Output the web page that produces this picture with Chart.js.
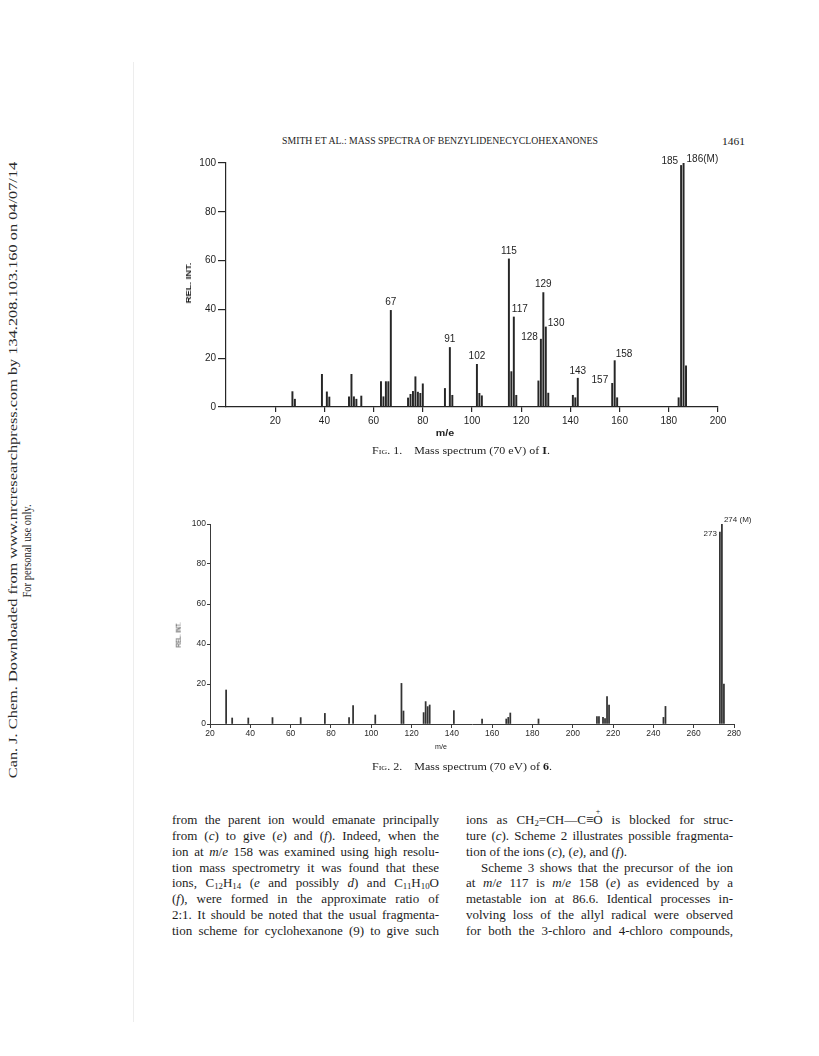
<!DOCTYPE html>
<html>
<head>
<meta charset="utf-8">
<title>Mass spectra of benzylidenecyclohexanones</title>
<script src="https://cdn.jsdelivr.net/npm/chart.js@4.4.1/dist/chart.umd.min.js"></script>
<style>
  html, body { margin:0; padding:0; background:#fff; }
  body { width:819px; height:1056px; position:relative; overflow:hidden; color:#1c1c1c;
         font-family:"Liberation Serif","Times New Roman",serif; }
  canvas { position:absolute; }
  .fit { position:absolute; left:0; top:0; white-space:nowrap; line-height:1; transform-origin:0 0; }
  .sans { font-family:"Liberation Sans", Arial, sans-serif; }
  .sc { font-variant:small-caps; }
  .ln { position:absolute; white-space:nowrap; line-height:1; display:inline-block; font-size:13px; }
  sub { font-size:0.68em; vertical-align:-0.28em; line-height:0; }
  .oplus { position:relative; display:inline-block; }
  .oplus span { position:absolute; left:50%; top:-0.62em; transform:translateX(-50%); font-size:0.62em; }
</style>
</head>
<body>
<div style="position:absolute;left:133px;top:62px;width:1px;height:960px;background:#ededed;"></div>

<!-- side note -->
<div class="fit" data-cx="13" data-cy="470" data-w="616" data-r="-90" style="font-size:13.5px;color:#2a2a2a;">Can. J. Chem. Downloaded from www.nrcresearchpress.com by 134.208.103.160 on 04/07/14</div>
<div class="fit" data-cx="27" data-cy="551" data-w="93" data-r="-90" style="font-size:13.5px;color:#2a2a2a;">For personal use only.</div>

<!-- running head -->
<div class="fit" data-cx="440" data-cy="141" data-w="316" style="font-size:9.6px;">SMITH ET AL.: MASS SPECTRA OF BENZYLIDENECYCLOHEXANONES</div>
<div class="fit" data-cx="733.5" data-cy="141" data-w="23" style="font-size:11px;">1461</div>

<!-- figure 1 -->
<canvas id="fig1" width="600" height="300" style="left:150px;top:150px;width:600px;height:300px;"></canvas>
<div class="fit sans" data-cx="189" data-cy="283" data-w="41" data-r="-90" style="font-size:8px;font-weight:bold;">REL. INT.</div>
<div class="fit sans" data-cx="445" data-cy="433" data-w="19" style="font-size:9px;font-weight:bold;">m/e</div>
<div class="fit" data-cx="461" data-cy="451" data-w="178" style="font-size:10.5px;"><span class="sc">Fig</span>. 1.&nbsp;&nbsp;&nbsp; Mass spectrum (70 eV) of <b>I</b>.</div>

<!-- figure 2 -->
<canvas id="fig2" width="620" height="260" style="left:140px;top:505px;width:620px;height:260px;"></canvas>
<div class="fit sans" data-cx="179" data-cy="635" data-w="25" data-r="-90" style="font-size:6.5px;">REL. INT.</div>
<div class="fit sans" data-cx="441" data-cy="747" data-w="12" style="font-size:6.5px;">m/e</div>
<div class="fit" data-cx="462" data-cy="767" data-w="180" style="font-size:10.5px;"><span class="sc">Fig</span>. 2.&nbsp;&nbsp;&nbsp; Mass spectrum (70 eV) of <b>6</b>.</div>

<div id="textcols"></div>

<script>
// ---------- DATA ----------
// Fig. 1: mass spectrum (70 eV) of I
const fig1Mass = [27,28,39,41,42,50,51,52,53,55,63,64,65,66,67,74,75,76,77,78,79,80,89,91,92,102,103,104,115,116,117,118,127,128,129,130,131,141,142,143,157,158,159,184,185,186,187];
const fig1Intensity = [6.3,3.2,13.4,6.2,4.1,4.2,13.4,4.2,3.2,4.5,10.4,4.2,10.4,10.4,39.6,3.7,5.2,6.4,12.4,6.1,5.6,9.5,7.6,24.4,4.8,17.5,5.6,4.6,60.7,14.5,36.9,4.8,10.7,27.8,46.9,32.8,5.7,4.8,3.8,11.8,9.7,19.0,3.8,3.8,99,100,16.9];
const fig1XTicks = [20,40,60,80,100,120,140,160,180,200];
const fig1YTicks = [0,20,40,60,80,100];
const fig1LabelMass = [67,91,102,115,117,128,129,130,143,157,158,185,186];
const fig1LabelText = ['67','91','102','115','117','128','129','130','143','157','158','185','186(M)'];

// Fig. 2: mass spectrum (70 eV) of 6
const fig2Mass = [28,31,39,51,65,77,89,91,102,115,116,126,127,128,129,141,155,167,168,169,183,212,213,215,216,217,218,245,246,273,274,275];
const fig2Intensity = [17,3,3,3.2,3.2,5.3,3.2,9.2,4.5,20.3,6.5,5.7,11.2,8.7,9.5,6.7,2.5,2.5,3.3,5.5,2.5,3.7,3.7,3.3,2.7,13.7,9.5,3.3,8.8,96,100,20];
const fig2XTicks = [20,40,60,80,100,120,140,160,180,200,220,240,260,280];
const fig2YTicks = [0,20,40,60,80,100];
const fig2LabelMass = [273,274];
const fig2LabelText = ['273','274 (M)'];

// ---------- label placement (style, not data) ----------
const fig1Place = [
  {a:'center',dx:0,dy:-8},{a:'center',dx:0,dy:-8},{a:'center',dx:0,dy:-8},{a:'center',dx:0,dy:-8},
  {a:'left',dx:-2,dy:-8},{a:'right',dx:-3,dy:-2},{a:'center',dx:0,dy:-8},{a:'left',dx:2,dy:-4},
  {a:'center',dx:0,dy:-7},{a:'right',dx:-4,dy:-3},{a:'left',dx:1,dy:-6},{a:'right',dx:-3,dy:-4},
  {a:'left',dx:3,dy:-4}
];
const fig2Place = [{a:'right',dx:-3,dy:2},{a:'left',dx:2,dy:-4}];

function labelPlugin(mass, ints, lMass, lText, place, font, color) {
  return {
    id: 'peakLabels',
    afterDatasetsDraw(chart) {
      const {ctx} = chart; const xs = chart.scales.x, ys = chart.scales.y;
      ctx.save();
      ctx.font = font; ctx.fillStyle = color; ctx.textBaseline = 'middle';
      lMass.forEach((m, k) => {
        const v = ints[mass.indexOf(m)];
        const p = place[k];
        ctx.textAlign = p.a;
        ctx.fillText(lText[k], xs.getPixelForValue(m) + p.dx, ys.getPixelForValue(v) + p.dy);
      });
      ctx.restore();
    }
  };
}

function spectrum(id, c) {
  const pts = c.mass.map((m, i) => ({x: m, y: c.ints[i]}));
  return new Chart(document.getElementById(id), {
    type: 'bar',
    data: { datasets: [{ data: pts, backgroundColor: c.barColor, borderWidth: 0, barThickness: c.barWidth, grouped: false }] },
    options: {
      responsive: false, animation: false, events: [], devicePixelRatio: 1,
      layout: { padding: c.padding },
      plugins: { legend: {display: false}, tooltip: {enabled: false} },
      scales: {
        x: {
          type: 'linear', min: c.xMin, max: c.xMax, offset: false,
          afterBuildTicks: s => { s.ticks = c.xTicks.map(v => ({value: v})); },
          afterFit: s => { s.height = c.xAxisH; },
          ticks: { autoSkip: false, maxRotation: 0, minRotation: 0, padding: c.xPad, color: c.textColor,
                   font: {family: 'Liberation Sans', size: c.tickFont} },
          grid: { offset: false, drawOnChartArea: false, drawTicks: true, tickLength: c.xTickLen, color: c.axisColor, lineWidth: c.axisW },
          border: { display: true, color: c.axisColor, width: c.axisW }
        },
        y: {
          min: 0, max: 100,
          afterBuildTicks: s => { s.ticks = c.yTicks.map(v => ({value: v})); },
          afterFit: s => { s.width = c.yAxisW; },
          ticks: { padding: c.yPad, color: c.textColor, font: {family: 'Liberation Sans', size: c.tickFont} },
          grid: { drawOnChartArea: false, drawTicks: true, tickLength: c.yTickLen, color: c.axisColor, lineWidth: c.axisW },
          border: { display: true, color: c.axisColor, width: c.axisW }
        }
      }
    },
    plugins: [labelPlugin(c.mass, c.ints, c.lMass, c.lText, c.place, c.labelFont, c.textColor)]
  });
}

// ---------- body text ----------
const leftLines = [
  'from the parent ion would emanate principally',
  'from (<i>c</i>) to give (<i>e</i>) and (<i>f</i>). Indeed, when the',
  'ion at <i>m</i>/<i>e</i> 158 was examined using high resolu-',
  'tion mass spectrometry it was found that these',
  'ions, C<sub>12</sub>H<sub>14</sub> (<i>e</i> and possibly <i>d</i>) and C<sub>11</sub>H<sub>10</sub>O',
  '(<i>f</i>), were formed in the approximate ratio of',
  '2:1. It should be noted that the usual fragmenta-',
  'tion scheme for cyclohexanone (9) to give such'
];
const rightLines = [
  'ions as CH<sub>2</sub>=CH—C≡<span class="oplus">O<span>+</span></span> is blocked for struc-',
  'ture (<i>c</i>). Scheme 2 illustrates possible fragmenta-',
  'tion of the ions (<i>c</i>), (<i>e</i>), and (<i>f</i>).',
  'Scheme 3 shows that the precursor of the ion',
  'at <i>m</i>/<i>e</i> 117 is <i>m</i>/<i>e</i> 158 (<i>e</i>) as evidenced by a',
  'metastable ion at 86.6. Identical processes in-',
  'volving loss of the allyl radical were observed',
  'for both the 3-chloro and 4-chloro compounds,'
];

function layoutText() {
  const host = document.getElementById('textcols');
  const fs = 13, y0 = 821, dy = 15.85;
  const cols = [
    {lines: leftLines, x: 172, w: 267, indent: {}, noJust: {}},
    {lines: rightLines, x: 466, w: 267, indent: {3: 15}, noJust: {2: true}}
  ];
  cols.forEach(col => {
    col.lines.forEach((html, i) => {
      const el = document.createElement('span');
      el.className = 'ln';
      el.innerHTML = html;
      const ind = col.indent[i] || 0;
      el.style.left = (col.x + ind) + 'px';
      el.style.top = (y0 + dy * i - 0.61 * fs) + 'px';
      host.appendChild(el);
      if (!col.noJust[i]) {
        const target = col.w - ind;
        const nat = el.getBoundingClientRect().width;
        const spaces = (el.textContent.match(/ /g) || []).length;
        let ws = spaces ? (target - nat) / spaces : 0;
        if (ws < -1.2) {
          // too long: tighten letters a little, then spread the rest over the spaces
          const chars = el.textContent.length;
          const ls = Math.max(-0.35, (target - nat + 1.2 * spaces) / chars);
          el.style.letterSpacing = ls + 'px';
          const nat2 = el.getBoundingClientRect().width;
          ws = spaces ? (target - nat2) / spaces : 0;
        }
        if (spaces) el.style.wordSpacing = ws + 'px';
      }
    });
  });
}

function fitTexts() {
  document.querySelectorAll('.fit').forEach(el => {
    const w = parseFloat(el.dataset.w), cx = parseFloat(el.dataset.cx), cy = parseFloat(el.dataset.cy);
    const r = parseFloat(el.dataset.r || '0');
    const nat = el.offsetWidth || 1;
    const s = w / nat;
    el.style.transform = `translate(${cx}px,${cy}px) rotate(${r}deg) scale(${s},1) translate(-50%,-50%)`;
  });
}

function build() {
  fitTexts();
  layoutText();
  spectrum('fig1', {
    mass: fig1Mass, ints: fig1Intensity, xTicks: fig1XTicks, yTicks: fig1YTicks,
    lMass: fig1LabelMass, lText: fig1LabelText, place: fig1Place,
    xMin: 0, xMax: 200, padding: {top: 13, right: 32, bottom: 0, left: 0},
    xAxisH: 43, yAxisW: 76, xPad: 3, yPad: 2, xTickLen: 5, yTickLen: 8,
    tickFont: 10, labelFont: '10px "Liberation Sans"', textColor: '#1e1e1e',
    axisColor: '#262626', axisW: 1.2, barColor: '#262626', barWidth: 1.3
  });
  spectrum('fig2', {
    mass: fig2Mass, ints: fig2Intensity, xTicks: fig2XTicks, yTicks: fig2YTicks,
    lMass: fig2LabelMass, lText: fig2LabelText, place: fig2Place,
    xMin: 20, xMax: 280, padding: {top: 19, right: 26, bottom: 0, left: 0},
    xAxisH: 41, yAxisW: 70, xPad: 1, yPad: 1, xTickLen: 4, yTickLen: 3,
    tickFont: 8.5, labelFont: '8px "Liberation Sans"', textColor: '#2a2a2a',
    axisColor: '#3a3a3a', axisW: 1, barColor: '#333333', barWidth: 1.1
  });
}
if (document.fonts && document.fonts.ready) document.fonts.ready.then(build); else build();
</script>
</body>
</html>
